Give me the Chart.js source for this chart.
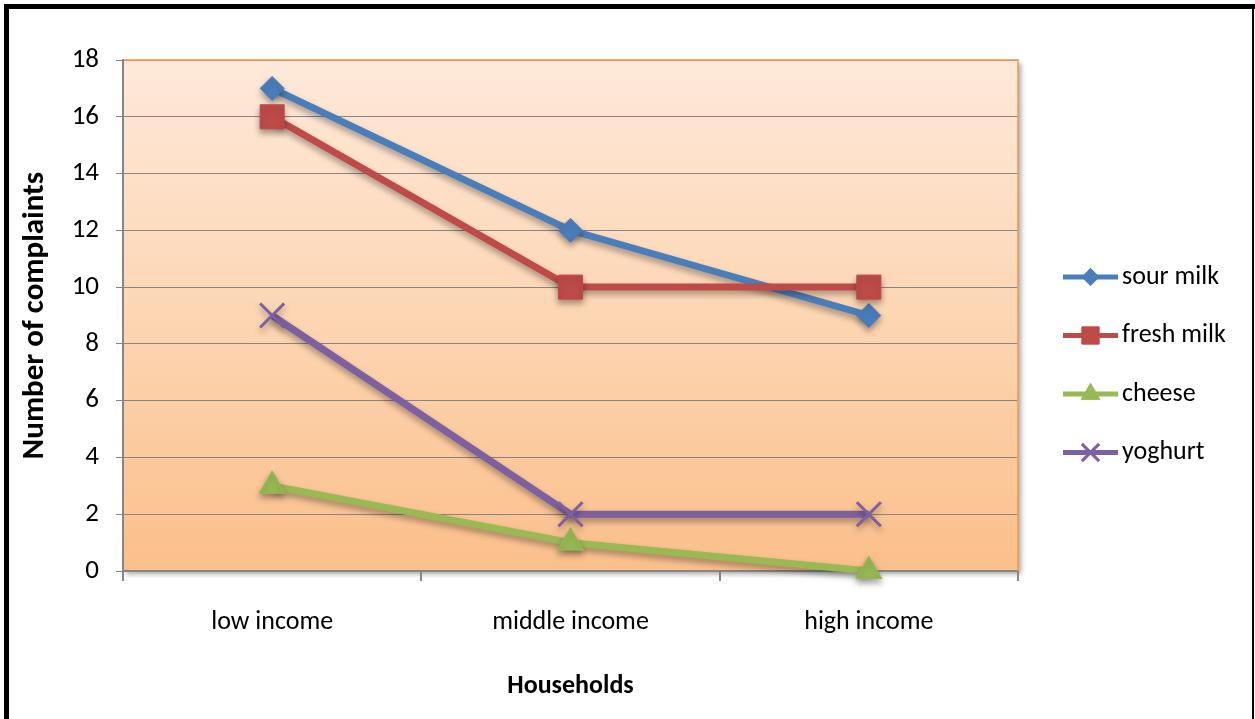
<!DOCTYPE html>
<html>
<head>
<meta charset="utf-8">
<script src="https://cdn.jsdelivr.net/npm/chart.js@4/dist/chart.umd.min.js"></script>
<style>
  html, body { margin: 0; padding: 0; background: #fff; }
  #wrap { width: 1255px; height: 719px; }
</style>
</head>
<body>
<div id="wrap"><canvas id="myChart" width="1255" height="719"></canvas></div>
<script>
// households and complaint counts per product
var households = ['low income', 'middle income', 'high income'];
var sourMilk = [17, 12, 9];
var freshMilk = [16, 10, 10];
var cheese = [3, 1, 0];
var yoghurt = [9, 2, 2];
var yTicks = [0, 2, 4, 6, 8, 10, 12, 14, 16, 18];

var FONT = 'Carlito, Calibri, Lato, "Liberation Sans", sans-serif';
var GRID = '#868686';

function series(label, data, color, style, radius, order) {
    return {
        label: label,
        data: data,
        borderColor: color,
        backgroundColor: color,
        borderWidth: 7,
        pointStyle: style,
        pointRadius: radius,
        pointHoverRadius: radius,
        pointBorderWidth: style === 'crossRot' ? 3 : 1,
        pointBorderColor: color,
        pointBackgroundColor: color,
        tension: 0,
        clip: false,
        order: order
    };
}

// white page, black frame, gradient plot background
var framePlugin = {
    id: 'frame',
    beforeDraw: function(chart) {
        var ctx = chart.ctx;
        var a = chart.chartArea;
        ctx.save();
        ctx.fillStyle = '#fff';
        ctx.fillRect(0, 0, chart.width, chart.height);
        ctx.fillStyle = '#000';
        ctx.fillRect(4, 4, 5, chart.height - 4);
        ctx.fillRect(4, 4, chart.width - 4, 5);
        ctx.fillRect(chart.width - 3, 4, 2, chart.height - 4);
        // soft shadow of the plot box
        ctx.shadowColor = 'rgba(0,0,0,0.35)';
        ctx.shadowBlur = 5;
        ctx.shadowOffsetX = 3;
        ctx.shadowOffsetY = 3;
        var g = ctx.createLinearGradient(0, a.top, 0, a.bottom);
        g.addColorStop(0, '#fee9da');
        g.addColorStop(0.5, '#fdd6b3');
        g.addColorStop(1, '#fbbf8b');
        ctx.fillStyle = g;
        ctx.fillRect(a.left, a.top, a.right - a.left, a.bottom - a.top);
        ctx.restore();
    },
    beforeDatasetsDraw: function(chart) {
        var ctx = chart.ctx;
        var a = chart.chartArea;
        ctx.save();
        ctx.strokeStyle = '#f79646';
        ctx.lineWidth = 1.5;
        ctx.beginPath();
        ctx.moveTo(a.left + 1, a.top);
        ctx.lineTo(a.right, a.top);
        ctx.lineTo(a.right, a.bottom);
        ctx.stroke();
        ctx.restore();
        // markers and lines get a light drop shadow
        ctx.save();
        ctx.shadowColor = 'rgba(0,0,0,0.35)';
        ctx.shadowBlur = 6;
        ctx.shadowOffsetY = 4;
    },
    afterDatasetsDraw: function(chart) {
        chart.ctx.restore();
    },
    afterDraw: function(chart) {
        // legend on the right: line with marker, then the name
        var ctx = chart.ctx;
        var x0 = 1063, x1 = 1118, y = 277, step = 58.5;
        chart.data.datasets.forEach(function(ds) {
            ctx.save();
            ctx.strokeStyle = ds.borderColor;
            ctx.lineWidth = 5;
            ctx.beginPath();
            ctx.moveTo(x0, y);
            ctx.lineTo(x1, y);
            ctx.stroke();
            ctx.fillStyle = ds.backgroundColor;
            ctx.strokeStyle = ds.borderColor;
            ctx.lineWidth = ds.pointBorderWidth;
            Chart.helpers.drawPoint(ctx, {
                pointStyle: ds.pointStyle,
                radius: ds.pointRadius * 0.72,
                rotation: 0,
                borderWidth: ds.pointBorderWidth
            }, (x0 + x1) / 2, y);
            ctx.fillStyle = '#000';
            ctx.font = '26px ' + FONT;
            ctx.textBaseline = 'middle';
            ctx.textAlign = 'left';
            ctx.fillText(ds.label, x1 + 4, y);
            ctx.restore();
            y += step;
        });
    }
};

var chartData = {
    type: 'line',
    data: {
        labels: households,
        datasets: [
            series('sour milk', sourMilk, '#4a7ebb', 'rectRot', 12, 4),
            series('fresh milk', freshMilk, '#be4b48', 'rect', 17, 3),
            series('cheese', cheese, '#98b954', 'triangle', 15, 2),
            series('yoghurt', yoghurt, '#7d60a0', 'crossRot', 17, 1)
        ]
    },
    options: {
        responsive: false,
        animation: false,
        events: [],
        layout: { padding: { top: 60, right: 237, left: 0, bottom: 0 } },
        plugins: { legend: { display: false }, tooltip: { enabled: false } },
        scales: {
            x: {
                offset: true,
                afterFit: function(scale) { scale.height = 148; },
                grid: {
                    offset: true,
                    drawOnChartArea: false,
                    drawTicks: true,
                    tickLength: 10,
                    color: GRID,
                    lineWidth: 2
                },
                border: { color: GRID, width: 2 },
                ticks: { color: '#000', padding: 26, font: { family: FONT, size: 26 }, maxRotation: 0 },
                title: {
                    display: true,
                    text: 'Households',
                    color: '#000',
                    font: { family: FONT, size: 26, weight: 'bold' },
                    padding: { top: 0, bottom: 17 }
                }
            },
            y: {
                min: 0,
                max: 18,
                afterFit: function(scale) { scale.width = 123; },
                afterBuildTicks: function(scale) {
                    scale.ticks = yTicks.map(function(v) { return { value: v }; });
                },
                grid: { color: GRID, lineWidth: 1, tickLength: 7 },
                border: { color: GRID, width: 2 },
                ticks: { color: '#000', padding: 17, font: { family: FONT, size: 27 } },
                title: {
                    display: true,
                    text: 'Number of complaints',
                    color: '#000',
                    font: { family: FONT, size: 31, weight: 'bold' },
                    padding: { top: 17, bottom: 0 }
                }
            }
        }
    },
    plugins: [framePlugin]
};

var chartArea = document.getElementById('myChart').getContext('2d');
var myChart = new Chart(chartArea, chartData);
</script>
</body>
</html>
